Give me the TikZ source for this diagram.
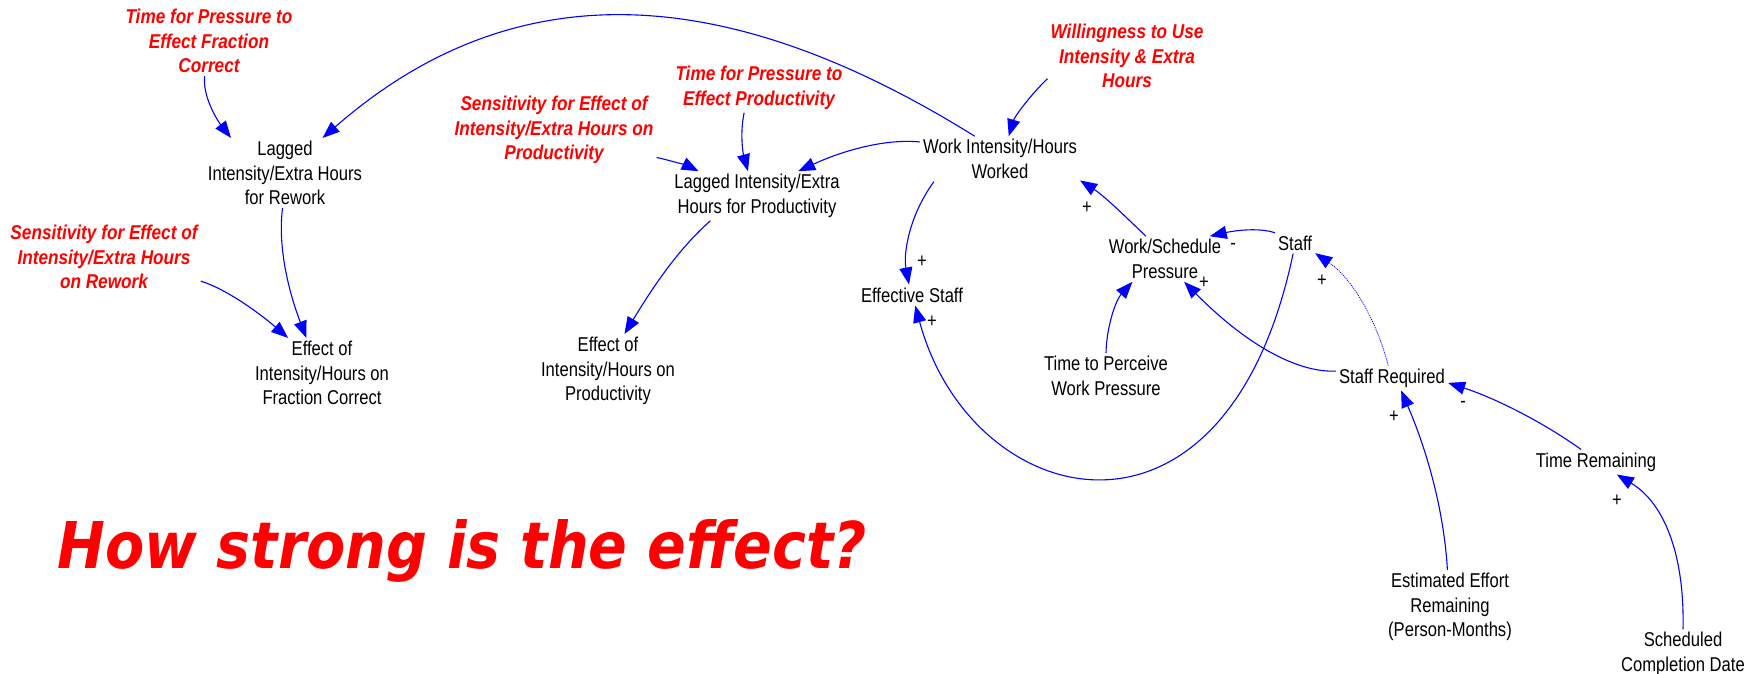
\documentclass[tikz,border=0pt]{standalone}
\usepackage{fontspec}
\setmainfont{Liberation Sans}[FakeStretch=0.83]
\newfontfamily\redfont{Liberation Sans}[FakeStretch=0.86]
\newfontfamily\titlefont{DejaVu Sans}[FakeStretch=0.886]
\usetikzlibrary{arrows.meta}
\begin{document}
\begin{tikzpicture}[x=1pt,y=-1pt,
  every node/.style={font=\fontsize{20}{24.5}\selectfont, align=center, inner sep=3pt},
  var/.style={text=black},
  param/.style={text=red, font=\fontsize{20}{24.5}\selectfont\redfont\bfseries\itshape},
  pol/.style={inner sep=0pt, text=black},
  link/.style={draw=blue, line width=1.1pt, -{Triangle[length=17pt,width=13pt]}},
  weaklink/.style={link, densely dotted, line width=0.8pt}
]
\useasboundingbox (0,0) rectangle (1764,674);

% variables
\node[param] (T1) at (209,41) {Time for Pressure to\\Effect Fraction\\Correct};
\node[var] (LR) at (285,173) {Lagged\\Intensity/Extra Hours\\for Rework};
\node[param] (S1) at (104,257) {Sensitivity for Effect of\\Intensity/Extra Hours\\on Rework};
\node[var] (EF) at (322,373) {Effect of\\Intensity/Hours on\\Fraction Correct};
\node[param] (S2) at (554,130) {Sensitivity for Effect of\\Intensity/Extra Hours on\\Productivity};
\node[param] (T2) at (759,88) {Time for Pressure to\\Effect Productivity};
\node[var] (LP) at (757,196) {Lagged Intensity/Extra\\Hours for Productivity};
\node[var] (EP) at (608,371) {Effect of\\Intensity/Hours on\\Productivity};
\node[param] (W) at (1127,56) {Willingness to Use\\Intensity \& Extra\\Hours};
\node[var] (WI) at (1000,159) {Work Intensity/Hours\\Worked};
\node[var] (ES) at (912,295) {Effective Staff};
\node[var] (WSP) at (1165,259) {Work/Schedule\\Pressure};
\node[var] (ST) at (1295,243) {Staff};
\node[var] (TP) at (1106,376) {Time to Perceive\\Work Pressure};
\node[var] (SR) at (1392,378) {Staff Required};
\node[var] (TR) at (1596,462) {Time Remaining};
\node[var] (EE) at (1450,607) {Estimated Effort\\Remaining\\(Person-Months)};
\node[var] (SCD) at (1683,654) {Scheduled\\Completion Date};

\node[anchor=base west, inner sep=0pt, text=red, font=\titlefont\bfseries\itshape\fontsize{64.5}{70}\selectfont] (title) at (57,568) {How strong is the effect?};

% links
\draw[link] (T1.263) .. controls +(-2.3,19.3) and +(-15,-19.3) .. (LR.147);
\draw[link] (WI.138) .. controls +(-223.6,-139.3) and +(207.6,-181.6) .. (LR.43);
\draw[link] (S1.346) .. controls +(23.3,7) and +(-31.3,-27) .. (EF.134);
\draw[link] (LR.266) .. controls +(-4.7,35.7) and +(-19.3,-50.3) .. (EF.114);
\draw[link] (S2.345) .. controls +(10,2) and +(-10,-5) .. (LP.157);
\draw[link] (T2.239) .. controls +(-4.3,20.7) and +(-5,-18) .. (LP.110);
\draw[link] (WI.168) .. controls +(-37,-3.7) and +(41,-19) .. (LP.31);
\draw[link] (LP.208) .. controls +(-32,28.3) and +(29.3,-48.3) .. (EP.66);
\draw[link] (W.196) .. controls +(-16.7,15.7) and +(6,-19.7) .. (WI.69);
\draw[link] (WI.199) .. controls +(-25,34.3) and +(-5.7,-30.3) .. (ES.106);
\draw[link] (ST.260) .. controls +(-67.7,322.6) and +(55.7,206.4) .. (ES.287);
\draw[link] (WSP.130) .. controls +(-18.7,-18) and +(24,15.3) .. (WI.345);
\draw[link] (ST.153) .. controls +(-18,-6) and +(20.7,-4.7) .. (WSP.27);
\draw[link] (TP.north) .. controls +(0.3,-23.7) and +(-17.7,19.7) .. (WSP.215);
\draw[link] (SR.173) .. controls +(-40.3,1.7) and +(60.3,61) .. (WSP.310);
\draw[weaklink] (SR.107) .. controls +(-12,-47) and +(36,24.3) .. (ST.333);
\draw[link] (TR.140) .. controls +(-39,-28) and +(45.7,14.7) .. (SR.355);
\draw[link] (EE.94) .. controls +(-3,-53.7) and +(28.3,65.7) .. (SR.306);
\draw[link] (SCD.north) .. controls +(1.7,-74) and +(47.7,28.7) .. (TR.329);

% polarities
\node[pol] (pj) at (922,262) {+};
\node[pol] (pk) at (932,322) {+};
\node[pol] (pl) at (1087,208) {+};
\node[pol] (pm) at (1233,246) {-};
\node[pol] (po) at (1204,283) {+};
\node[pol] (pp) at (1322,281) {+};
\node[pol] (pq) at (1463,404) {-};
\node[pol] (pr) at (1394,417) {+};
\node[pol] (ps) at (1617,501) {+};
\end{tikzpicture}
\end{document}
